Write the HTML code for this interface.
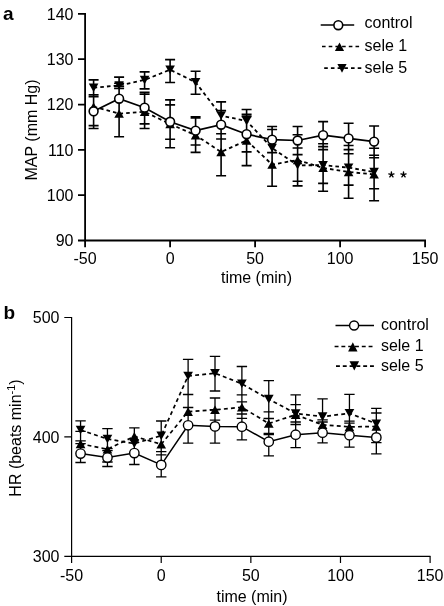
<!DOCTYPE html>
<html><head><meta charset="utf-8"><style>
html,body{margin:0;padding:0;background:#fff;}
svg{display:block;will-change:transform;}
</style></head><body>
<svg width="444" height="606" viewBox="0 0 444 606" font-family='"Liberation Sans", sans-serif' font-size="16" fill="#000">
<rect width="444" height="606" fill="#fff"/>
<path d="M85.1 13.9V240.5H425.1" stroke="#000" stroke-width="1.8" fill="none" stroke-linecap="square"/>
<path d="M78 240.50H85.1M78 195.18H85.1M78 149.86H85.1M78 104.54H85.1M78 59.22H85.1M78 13.90H85.1M85.10 240.5V247.3M170.10 240.5V247.3M255.10 240.5V247.3M340.10 240.5V247.3M425.10 240.5V247.3" stroke="#000" stroke-width="1.8" fill="none"/>
<text x="73.5" y="246.30" text-anchor="end">90</text>
<text x="73.5" y="200.98" text-anchor="end">100</text>
<text x="73.5" y="155.66" text-anchor="end">110</text>
<text x="73.5" y="110.34" text-anchor="end">120</text>
<text x="73.5" y="65.02" text-anchor="end">130</text>
<text x="73.5" y="19.70" text-anchor="end">140</text>
<text x="85.10" y="264.2" text-anchor="middle">-50</text>
<text x="170.10" y="264.2" text-anchor="middle">0</text>
<text x="255.10" y="264.2" text-anchor="middle">50</text>
<text x="340.10" y="264.2" text-anchor="middle">100</text>
<text x="425.10" y="264.2" text-anchor="middle">150</text>
<text x="256.5" y="282.5" text-anchor="middle">time (min)</text>
<text transform="translate(36.5 130) rotate(-90)" text-anchor="middle">MAP (mm Hg)</text>
<text x="3" y="20" font-weight="bold" font-size="19">a</text>
<path d="M320.7 25.1H354.2" stroke="#000" stroke-width="1.5"/>
<circle cx="338.3" cy="25.2" r="4.4" fill="#fff" stroke="#000" stroke-width="1.6"/>
<path d="M322 46.5H360.3" stroke="#000" stroke-width="1.7" stroke-dasharray="3.6 3.1"/>
<g fill="#000"><path d="M339.50 42.50L344.10 50.90L334.90 50.90Z"/><path d="M337.40 64.10L346.60 64.10L342.00 72.70Z"/></g>
<path d="M324.2 68.1H362.3" stroke="#000" stroke-width="1.7" stroke-dasharray="3.6 3.1"/>
<text x="364.5" y="28.3">control</text>
<text x="364.5" y="50.7">sele 1</text>
<text x="364.5" y="72.9">sele 5</text>
<path d="M391.40 174.70L391.40 172.00M391.40 174.70L393.97 173.87M391.40 174.70L392.99 176.88M391.40 174.70L389.81 176.88M391.40 174.70L388.83 173.87M403.50 174.70L403.50 172.00M403.50 174.70L406.07 173.87M403.50 174.70L405.09 176.88M403.50 174.70L401.91 176.88M403.50 174.70L400.93 173.87" stroke="#000" stroke-width="1.4" stroke-linecap="round" fill="none"/>
<path d="M93.60 79.90V128.50M88.60 79.90H98.60M88.60 94.90H98.60M88.60 96.80H98.60M88.60 125.60H98.60M88.60 128.50H98.60M119.10 77.10V136.80M114.10 77.10H124.10M114.10 83.30H124.10M114.10 86.30H124.10M114.10 88.40H124.10M114.10 136.80H124.10M144.60 71.90V88.90M144.60 92.10V128.50M139.60 71.90H149.60M139.60 88.90H149.60M139.60 92.30H149.60M139.60 94.10H149.60M139.60 123.90H149.60M139.60 128.50H149.60M170.10 59.60V82.50M170.10 99.90V147.80M165.10 59.60H175.10M165.10 82.50H175.10M165.10 99.90H175.10M165.10 104.90H175.10M165.10 139.30H175.10M165.10 147.80H175.10M195.60 71.20V94.30M195.60 116.90V152.40M190.60 71.20H200.60M190.60 94.30H200.60M190.60 116.90H200.60M190.60 118.00H200.60M190.60 145.00H200.60M190.60 152.40H200.60M221.10 101.90V175.80M216.10 101.90H226.10M216.10 110.60H226.10M216.10 133.70H226.10M216.10 139.00H226.10M216.10 175.80H226.10M246.60 109.50V165.60M241.60 109.50H251.60M241.60 114.40H251.60M241.60 116.40H251.60M241.60 151.90H251.60M241.60 165.60H251.60M272.10 126.50V186.20M267.10 126.50H277.10M267.10 129.50H277.10M267.10 152.60H277.10M267.10 186.20H277.10M297.60 126.50V185.90M292.60 126.50H302.60M292.60 134.80H302.60M292.60 148.00H302.60M292.60 154.60H302.60M292.60 181.30H302.60M292.60 185.90H302.60M323.10 121.60V191.20M318.10 121.60H328.10M318.10 143.80H328.10M318.10 146.60H328.10M318.10 149.60H328.10M318.10 183.40H328.10M318.10 191.20H328.10M348.60 123.20V198.30M343.60 123.20H353.60M343.60 145.50H353.60M343.60 149.60H353.60M343.60 153.70H353.60M343.60 185.10H353.60M343.60 198.30H353.60M374.10 126.00V200.70M369.10 126.00H379.10M369.10 148.20H379.10M369.10 155.30H379.10M369.10 157.80H379.10M369.10 188.80H379.10M369.10 200.70H379.10" stroke="#000" stroke-width="1.6" fill="none"/>
<path d="M93.60 87.70L119.10 85.40L144.60 80.00L170.10 69.70L195.60 82.30L221.10 115.60L246.60 121.00L272.10 148.00L297.60 165.30L323.10 165.20L348.60 167.60L374.10 172.00" stroke="#000" stroke-width="1.8" fill="none" stroke-dasharray="3.6 3.1"/>
<path d="M93.60 106.70L119.10 113.60L144.60 111.80L170.10 124.00L195.60 135.20L221.10 152.00L246.60 140.50L272.10 164.60L297.60 160.00L323.10 167.90L348.60 172.00L374.10 174.40" stroke="#000" stroke-width="1.8" fill="none" stroke-dasharray="3.6 3.1"/>
<path d="M93.60 111.30L119.10 98.70L144.60 107.70L170.10 121.80L195.60 130.60L221.10 124.70L246.60 134.20L272.10 139.70L297.60 140.50L323.10 135.20L348.60 138.40L374.10 141.60" stroke="#000" stroke-width="1.7" fill="none"/>
<g fill="#000"><path d="M88.80 83.50L98.40 83.50L93.60 91.90Z"/><path d="M114.30 81.20L123.90 81.20L119.10 89.60Z"/><path d="M139.80 75.80L149.40 75.80L144.60 84.20Z"/><path d="M165.30 65.50L174.90 65.50L170.10 73.90Z"/><path d="M190.80 78.10L200.40 78.10L195.60 86.50Z"/><path d="M216.30 111.40L225.90 111.40L221.10 119.80Z"/><path d="M241.80 116.80L251.40 116.80L246.60 125.20Z"/><path d="M267.30 143.80L276.90 143.80L272.10 152.20Z"/><path d="M292.80 161.10L302.40 161.10L297.60 169.50Z"/><path d="M318.30 161.00L327.90 161.00L323.10 169.40Z"/><path d="M343.80 163.40L353.40 163.40L348.60 171.80Z"/><path d="M369.30 167.80L378.90 167.80L374.10 176.20Z"/><path d="M93.60 102.50L98.40 110.90L88.80 110.90Z"/><path d="M119.10 109.40L123.90 117.80L114.30 117.80Z"/><path d="M144.60 107.60L149.40 116.00L139.80 116.00Z"/><path d="M170.10 119.80L174.90 128.20L165.30 128.20Z"/><path d="M195.60 131.00L200.40 139.40L190.80 139.40Z"/><path d="M221.10 147.80L225.90 156.20L216.30 156.20Z"/><path d="M246.60 136.30L251.40 144.70L241.80 144.70Z"/><path d="M272.10 160.40L276.90 168.80L267.30 168.80Z"/><path d="M297.60 155.80L302.40 164.20L292.80 164.20Z"/><path d="M323.10 163.70L327.90 172.10L318.30 172.10Z"/><path d="M348.60 167.80L353.40 176.20L343.80 176.20Z"/><path d="M374.10 170.20L378.90 178.60L369.30 178.60Z"/></g>
<g fill="#fff" stroke="#000" stroke-width="1.6"><circle cx="93.60" cy="111.30" r="4.4"/><circle cx="119.10" cy="98.70" r="4.4"/><circle cx="144.60" cy="107.70" r="4.4"/><circle cx="170.10" cy="121.80" r="4.4"/><circle cx="195.60" cy="130.60" r="4.4"/><circle cx="221.10" cy="124.70" r="4.4"/><circle cx="246.60" cy="134.20" r="4.4"/><circle cx="272.10" cy="139.70" r="4.4"/><circle cx="297.60" cy="140.50" r="4.4"/><circle cx="323.10" cy="135.20" r="4.4"/><circle cx="348.60" cy="138.40" r="4.4"/><circle cx="374.10" cy="141.60" r="4.4"/></g>
<path d="M71.6 317.5V556.3H429.9" stroke="#000" stroke-width="1.2" fill="none" stroke-linecap="square"/>
<path d="M64.3 556.30H71.6M64.3 436.90H71.6M64.3 317.50H71.6M71.60 556.3V563M161.22 556.3V563M250.85 556.3V563M340.48 556.3V563M430.10 556.3V563" stroke="#000" stroke-width="1.2" fill="none"/>
<text x="59.5" y="561.90" text-anchor="end">300</text>
<text x="59.5" y="442.50" text-anchor="end">400</text>
<text x="59.5" y="323.10" text-anchor="end">500</text>
<text x="71.60" y="580.5" text-anchor="middle">-50</text>
<text x="161.22" y="580.5" text-anchor="middle">0</text>
<text x="250.85" y="580.5" text-anchor="middle">50</text>
<text x="340.48" y="580.5" text-anchor="middle">100</text>
<text x="430.10" y="580.5" text-anchor="middle">150</text>
<text x="252" y="602" text-anchor="middle">time (min)</text>
<text transform="translate(21.3 438) rotate(-90)" text-anchor="middle">HR (beats min<tspan font-size="11" dy="-6">-1</tspan><tspan dy="6">)</tspan></text>
<text x="3.5" y="319.3" font-weight="bold" font-size="19">b</text>
<path d="M335.5 325.5H374" stroke="#000" stroke-width="1.4"/>
<circle cx="354.1" cy="325.5" r="4.5" fill="#fff" stroke="#000" stroke-width="1.4"/>
<path d="M334.6 346.5H374" stroke="#000" stroke-width="1.6" stroke-dasharray="3.9 2.9"/>
<path d="M336 366.1H375.4" stroke="#000" stroke-width="1.6" stroke-dasharray="3.9 2.9"/>
<g fill="#000"><path d="M352.80 342.20L357.50 351.40L348.10 351.40Z"/><path d="M349.50 361.30L359.10 361.30L354.30 370.50Z"/></g>
<text x="380.9" y="330.2">control</text>
<text x="380.9" y="350.7">sele 1</text>
<text x="380.9" y="370.6">sele 5</text>
<path d="M80.56 420.90V462.50M75.36 420.90H85.76M75.36 431.30H85.76M75.36 440.90H85.76M75.36 443.70H85.76M75.36 462.50H85.76M107.45 428.70V466.50M102.25 428.70H112.65M102.25 448.70H112.65M102.25 450.70H112.65M102.25 462.00H112.65M102.25 466.50H112.65M134.34 427.90V464.50M129.14 427.90H139.54M129.14 464.50H139.54M161.22 421.00V476.80M156.03 421.00H166.42M156.03 451.70H166.42M156.03 454.90H166.42M156.03 476.80H166.42M188.11 359.30V443.20M182.91 359.30H193.31M182.91 394.50H193.31M182.91 407.50H193.31M182.91 443.20H193.31M215.00 356.40V391.00M215.00 398.00V443.10M209.80 356.40H220.20M209.80 391.00H220.20M209.80 398.00H220.20M209.80 409.70H220.20M209.80 420.10H220.20M209.80 443.10H220.20M241.89 366.50V439.90M236.69 366.50H247.09M236.69 394.80H247.09M236.69 401.90H247.09M236.69 414.00H247.09M236.69 418.40H247.09M236.69 439.90H247.09M268.77 380.60V455.80M263.57 380.60H273.97M263.57 411.90H273.97M263.57 418.50H273.97M263.57 433.40H273.97M263.57 434.70H273.97M263.57 455.80H273.97M295.66 394.80V447.60M290.46 394.80H300.86M290.46 404.70H300.86M290.46 422.00H300.86M290.46 424.50H300.86M290.46 447.60H300.86M322.55 398.90V442.90M317.35 398.90H327.75M317.35 419.80H327.75M317.35 422.00H327.75M317.35 442.90H327.75M349.44 394.40V447.20M344.24 394.40H354.64M344.24 421.20H354.64M344.24 423.10H354.64M344.24 447.20H354.64M376.33 408.40V453.90M371.13 408.40H381.53M371.13 413.00H381.53M371.13 442.70H381.53M371.13 453.90H381.53" stroke="#000" stroke-width="1.3" fill="none"/>
<path d="M80.56 430.00L107.45 439.00L134.34 443.60L161.22 435.70L188.11 376.00L215.00 373.20L241.89 383.80L268.77 399.10L295.66 413.50L322.55 416.60L349.44 413.30L376.33 423.70" stroke="#000" stroke-width="1.7" fill="none" stroke-dasharray="3.9 3.2"/>
<path d="M80.56 443.90L107.45 449.20L134.34 436.40L161.22 444.20L188.11 411.60L215.00 409.80L241.89 407.30L268.77 423.50L295.66 414.80L322.55 424.80L349.44 426.90L376.33 426.40" stroke="#000" stroke-width="1.7" fill="none" stroke-dasharray="3.9 3.2"/>
<path d="M80.56 453.60L107.45 457.60L134.34 453.10L161.22 464.90L188.11 425.30L215.00 426.40L241.89 426.70L268.77 441.70L295.66 434.70L322.55 432.70L349.44 435.20L376.33 437.40" stroke="#000" stroke-width="1.5" fill="none"/>
<g fill="#000"><path d="M75.71 425.70L85.41 425.70L80.56 434.30Z"/><path d="M102.60 434.70L112.30 434.70L107.45 443.30Z"/><path d="M129.49 439.30L139.19 439.30L134.34 447.90Z"/><path d="M156.38 431.40L166.07 431.40L161.22 440.00Z"/><path d="M183.26 371.70L192.96 371.70L188.11 380.30Z"/><path d="M210.15 368.90L219.85 368.90L215.00 377.50Z"/><path d="M237.04 379.50L246.74 379.50L241.89 388.10Z"/><path d="M263.92 394.80L273.62 394.80L268.77 403.40Z"/><path d="M290.81 409.20L300.51 409.20L295.66 417.80Z"/><path d="M317.70 412.30L327.40 412.30L322.55 420.90Z"/><path d="M344.59 409.00L354.29 409.00L349.44 417.60Z"/><path d="M371.48 419.40L381.18 419.40L376.33 428.00Z"/><path d="M80.56 439.60L85.41 448.20L75.71 448.20Z"/><path d="M107.45 444.90L112.30 453.50L102.60 453.50Z"/><path d="M134.34 432.10L139.19 440.70L129.49 440.70Z"/><path d="M161.22 439.90L166.07 448.50L156.38 448.50Z"/><path d="M188.11 407.30L192.96 415.90L183.26 415.90Z"/><path d="M215.00 405.50L219.85 414.10L210.15 414.10Z"/><path d="M241.89 403.00L246.74 411.60L237.04 411.60Z"/><path d="M268.77 419.20L273.62 427.80L263.92 427.80Z"/><path d="M295.66 410.50L300.51 419.10L290.81 419.10Z"/><path d="M322.55 420.50L327.40 429.10L317.70 429.10Z"/><path d="M349.44 422.60L354.29 431.20L344.59 431.20Z"/><path d="M376.33 422.10L381.18 430.70L371.48 430.70Z"/></g>
<g fill="#fff" stroke="#000" stroke-width="1.4"><circle cx="80.56" cy="453.60" r="4.7"/><circle cx="107.45" cy="457.60" r="4.7"/><circle cx="134.34" cy="453.10" r="4.7"/><circle cx="161.22" cy="464.90" r="4.7"/><circle cx="188.11" cy="425.30" r="4.7"/><circle cx="215.00" cy="426.40" r="4.7"/><circle cx="241.89" cy="426.70" r="4.7"/><circle cx="268.77" cy="441.70" r="4.7"/><circle cx="295.66" cy="434.70" r="4.7"/><circle cx="322.55" cy="432.70" r="4.7"/><circle cx="349.44" cy="435.20" r="4.7"/><circle cx="376.33" cy="437.40" r="4.7"/></g>
</svg>
</body></html>
